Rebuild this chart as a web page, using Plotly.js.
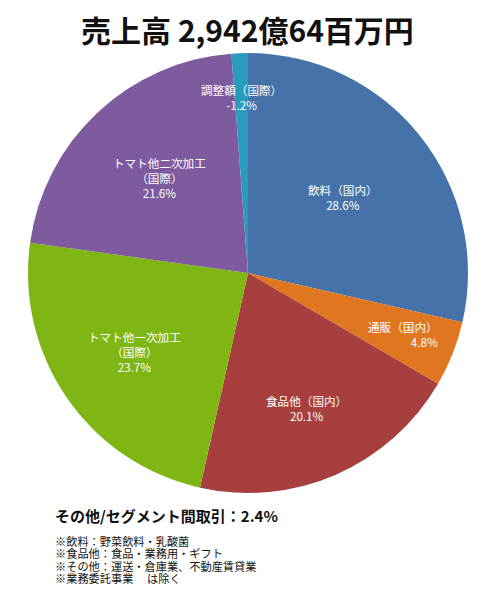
<!DOCTYPE html>
<html>
<head>
<meta charset="utf-8">
<script src="https://cdn.plot.ly/plotly-3.0.1.min.js"></script>
<style>
  body { margin: 0; background: #fff; }
  #chart { width: 500px; height: 606px; }
</style>
</head>
<body>
<div id="chart"></div>
<script>
// segment names (line breaks as in the picture) and their share in %
const segments = ['飲料（国内）', '通販（国内）', '食品他（国内）', 'トマト他一次加工<br>（国際）', 'トマト他二次加工<br>（国際）', '調整額（国際）'];
const shares = [28.6, 4.8, 20.1, 23.7, 21.6, -1.2];
const colors = ['#4573a9', '#e0761f', '#a83f3f', '#80b614', '#7e5a9e', '#2b9bbd'];

const titleText = '売上高 2,942億64百万円';
const otherText = 'その他/セグメント間取引：2.4%';
const notes = ['※飲料：野菜飲料・乳酸菌', '※食品他：食品・業務用・ギフト', '※その他：運送・倉庫業、不動産賃貸業', '※業務委託事業　 は除く'];

// how far out (fraction of radius) each label sits
const labelRadius = [0.55, 0.76, 0.67, 0.63, 0.59, 0.8];

const W = 500, H = 606;
const cx = 248, cy = 273, R = 220;
const font = '"Noto Sans CJK JP", "Noto Sans", sans-serif';

const values = shares.map(v => Math.abs(v));
const total = values.reduce((a, b) => a + b, 0);

const trace = {
    type: 'pie',
    labels: segments,
    values: values,
    sort: false,
    direction: 'clockwise',
    rotation: 0,
    textposition: 'none',
    hoverinfo: 'none',
    marker: { colors: colors, line: { width: 0 } },
    domain: {
        x: [(cx - R) / W, (cx + R) / W],
        y: [1 - (cy + R) / H, 1 - (cy - R) / H]
    },
    showlegend: false
};

// slice labels at the middle angle of each slice
const annotations = [];
let acc = 0;
segments.forEach((name, i) => {
    const mid = (acc + values[i] / 2) / total * 2 * Math.PI;
    acc += values[i];
    const r = R * labelRadius[i];
    const px = cx + r * Math.sin(mid);
    const py = cy - r * Math.cos(mid);
    annotations.push({
        xref: 'paper', yref: 'paper',
        x: px / W, y: 1 - py / H,
        xanchor: 'center', yanchor: 'middle',
        text: name + '<br>' + shares[i].toFixed(1) + '%',
        showarrow: false,
        align: i === 1 ? 'right' : 'center',
        font: { family: font, size: 11.6, color: '#ffffff' }
    });
});

annotations.push({
    xref: 'paper', yref: 'paper',
    x: 53 / W, y: 1 - 515 / H,
    xanchor: 'left', yanchor: 'middle',
    text: '<b>' + otherText + '</b>',
    showarrow: false,
    font: { family: font, size: 15, color: '#111111' }
});

// footnotes, tightly spaced like the original
notes.forEach((line, i) => {
    annotations.push({
        xref: 'paper', yref: 'paper',
        x: 53 / W, y: 1 - (541 + i * 12.4) / H,
        xanchor: 'left', yanchor: 'middle',
        text: line,
        showarrow: false,
        font: { family: font, size: 11.2, color: '#111111' }
    });
});

const layout = {
    width: W,
    height: H,
    margin: { l: 0, r: 0, t: 0, b: 0 },
    paper_bgcolor: '#ffffff',
    title: {
        text: '<b>' + titleText + '</b>',
        x: 247.5 / W, xanchor: 'center',
        y: 1 - 31 / H, yanchor: 'middle',
        font: { family: font, size: 30, color: '#111111' }
    },
    annotations: annotations
};

Plotly.newPlot('chart', [trace], layout, { displayModeBar: false, staticPlot: true });
</script>
</body>
</html>
